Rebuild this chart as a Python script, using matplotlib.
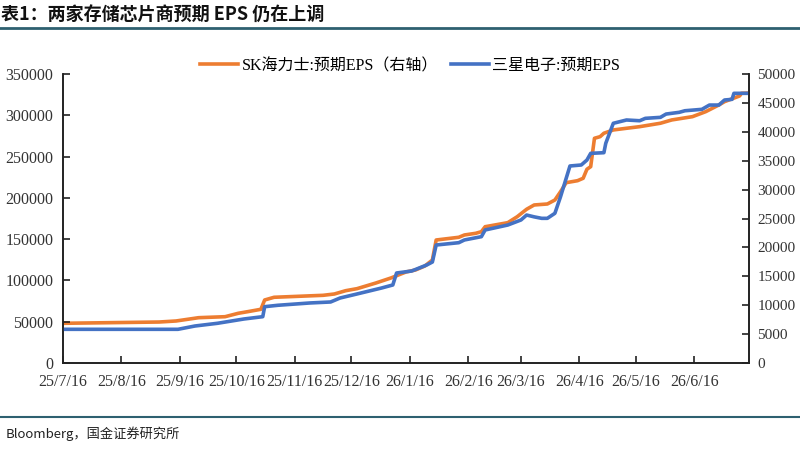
import matplotlib.pyplot as plt
import pandas as pd
plt.switch_backend('agg')

plt.rcParams['font.family'] = ['Liberation Serif', 'Noto Sans CJK SC']
plt.rcParams['axes.unicode_minus'] = False

# Samsung Electronics, expected EPS (left axis)
samsung_dates = ['2025-07-16', '2025-09-15', '2025-09-24', '2025-10-06', '2025-10-20',
                 '2025-10-30', '2025-10-31', '2025-11-07', '2025-11-24', '2025-12-05',
                 '2025-12-10', '2025-12-19', '2026-01-01', '2026-01-07', '2026-01-09',
                 '2026-01-17', '2026-01-25', '2026-01-28', '2026-01-30', '2026-02-11',
                 '2026-02-14', '2026-02-23', '2026-02-25', '2026-03-09', '2026-03-16',
                 '2026-03-19', '2026-03-23', '2026-03-27', '2026-03-30', '2026-04-03',
                 '2026-04-06', '2026-04-11', '2026-04-17', '2026-04-20', '2026-04-22',
                 '2026-04-29', '2026-04-30', '2026-05-04', '2026-05-11', '2026-05-18',
                 '2026-05-21', '2026-05-29', '2026-06-01', '2026-06-08', '2026-06-11',
                 '2026-06-20', '2026-06-24', '2026-06-29', '2026-07-02', '2026-07-06',
                 '2026-07-07', '2026-07-15']
samsung_eps = [40800, 40800, 44800, 48100, 53300,
               56100, 68200, 69900, 72700, 73900,
               78700, 83600, 90800, 94500, 109000,
               111400, 118700, 122300, 142900, 145700,
               149000, 153000, 161100, 167100, 173200,
               179200, 177000, 175200, 175200, 181300,
               201400, 238600, 239800, 245800, 253900,
               254700, 266100, 290300, 294300, 293400,
               296300, 297500, 301500, 303600, 305500,
               307200, 312400, 312400, 318500, 319300,
               326600, 326600]

# SK hynix, expected EPS (right axis)
hynix_dates = ['2025-07-16', '2025-09-05', '2025-09-14', '2025-09-26', '2025-10-10',
               '2025-10-17', '2025-10-22', '2025-10-29', '2025-10-31', '2025-11-05',
               '2025-12-01', '2025-12-07', '2025-12-13', '2025-12-19', '2025-12-29',
               '2026-01-06', '2026-01-14', '2026-01-19', '2026-01-24', '2026-01-28',
               '2026-01-30', '2026-02-11', '2026-02-14', '2026-02-20', '2026-02-23',
               '2026-02-25', '2026-03-09', '2026-03-14', '2026-03-19', '2026-03-23',
               '2026-03-30', '2026-04-03', '2026-04-06', '2026-04-09', '2026-04-15',
               '2026-04-18', '2026-04-20', '2026-04-22', '2026-04-24', '2026-04-27',
               '2026-04-29', '2026-05-04', '2026-05-11', '2026-05-18', '2026-05-29',
               '2026-06-04', '2026-06-15', '2026-06-22', '2026-06-29', '2026-07-02',
               '2026-07-10', '2026-07-11', '2026-07-15']
hynix_eps = [6870, 7090, 7270, 7840, 8010,
             8600, 8880, 9290, 10900, 11370,
             11710, 11940, 12510, 12860, 13840,
             14710, 15750, 16090, 16780, 17820,
             21280, 21750, 22150, 22440, 22720,
             23580, 24280, 25310, 26600, 27340,
             27510, 28200, 29640, 31200, 31540,
             31960, 33520, 33970, 38880, 39160,
             39750, 40320, 40610, 40890, 41480,
             42050, 42620, 43480, 44640, 45210,
             46200, 46670, 46700]

tick_dates = ['2025-07-16', '2025-08-16', '2025-09-16', '2025-10-16', '2025-11-16',
              '2025-12-16', '2026-01-16', '2026-02-16', '2026-03-16', '2026-04-16',
              '2026-05-16', '2026-06-16']
tick_labels = ['25/7/16', '25/8/16', '25/9/16', '25/10/16', '25/11/16', '25/12/16',
               '26/1/16', '26/2/16', '26/3/16', '26/4/16', '26/5/16', '26/6/16']

title = '表1：两家存储芯片商预期 EPS 仍在上调'
source = 'Bloomberg，国金证券研究所'
label_hynix = 'SK海力士:预期EPS（右轴）'
label_samsung = '三星电子:预期EPS'

orange = '#ED7D31'
blue = '#4472C4'
rule_color = '#2E6070'

fig = plt.figure(figsize=(8, 4.5), dpi=100)
ax = fig.add_axes([63 / 800, 1 - 363 / 450, 686 / 800, 289 / 450])
ax2 = ax.twinx()

l2, = ax2.plot(pd.to_datetime(hynix_dates), hynix_eps, color=orange, linewidth=2.6,
               label=label_hynix)
l1, = ax.plot(pd.to_datetime(samsung_dates), samsung_eps, color=blue, linewidth=2.6,
              label=label_samsung)
ax.set_zorder(ax2.get_zorder() + 1)
ax.patch.set_visible(False)

ax.set_xlim(pd.Timestamp('2025-07-16'), pd.Timestamp('2026-07-15'))
ax.set_ylim(0, 350000)
ax2.set_ylim(0, 50000)
ax.set_yticks(range(0, 350001, 50000))
ax2.set_yticks(range(0, 50001, 5000))
ax.set_xticks(pd.to_datetime(tick_dates))
ax.set_xticklabels(tick_labels)

for a in (ax, ax2):
    a.spines['top'].set_visible(False)
    for s in ('left', 'right', 'bottom'):
        a.spines[s].set_linewidth(1.2)
        a.spines[s].set_color('#222222')
ax.tick_params(axis='both', direction='in', length=5, width=1.2, labelsize=11.5,
               colors='#222222')
ax.tick_params(axis='y', pad=7)
ax.tick_params(axis='x', pad=8)
ax2.tick_params(axis='y', direction='in', length=5, width=1.2, labelsize=11,
                colors='#222222', pad=6)
for lab in ax.get_xticklabels() + ax.get_yticklabels() + ax2.get_yticklabels():
    lab.set_color('#333333')

fig.legend(handles=[l2, l1], loc='center', bbox_to_anchor=(410 / 800, 1 - 66 / 450),
           ncol=2, frameon=False, fontsize=11.5, handlelength=2.4,
           handletextpad=0.2, columnspacing=0.8)

fig.text(1 / 800, 1 - 15 / 450, title, fontsize=13, fontweight='bold',
         fontstyle='italic', va='center', ha='left', color='#111111',
         family=['Noto Sans CJK SC', 'DejaVu Sans'])
fig.add_artist(plt.Line2D([0, 1], [1 - 28 / 450, 1 - 28 / 450], color=rule_color,
                          linewidth=2.0))
fig.add_artist(plt.Line2D([0, 1], [1 - 417 / 450, 1 - 417 / 450], color=rule_color,
                          linewidth=1.5))
fig.text(6 / 800, 1 - 434 / 450, source, fontsize=9.5, va='center', ha='left',
         color='#222222', family=['Noto Sans CJK SC', 'DejaVu Sans'])

plt.savefig('out.png', dpi=100)
